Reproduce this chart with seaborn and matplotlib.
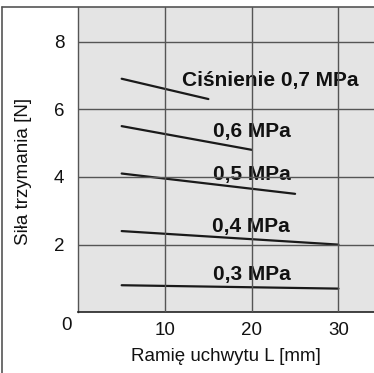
import matplotlib
matplotlib.use("Agg")
import matplotlib.pyplot as plt
import seaborn as sns
import pandas as pd
from matplotlib.lines import Line2D

# holding force vs. gripper arm length, per supply pressure
pressures = ["0,7", "0,6", "0,5", "0,4", "0,3"]
arm_start = [5, 5, 5, 5, 5]
arm_end = [15, 20, 25, 30, 30]
force_start = [6.9, 5.5, 4.1, 2.4, 0.8]
force_end = [6.3, 4.8, 3.5, 2.0, 0.7]
labels = ["Ciśnienie 0,7 MPa", "0,6 MPa", "0,5 MPa", "0,4 MPa", "0,3 MPa"]
label_x = [11.9, 15.5, 15.5, 15.4, 15.5]
label_y = [6.85, 5.35, 4.06, 2.53, 1.13]

rows = []
for p, x0, x1, y0, y1 in zip(pressures, arm_start, arm_end, force_start, force_end):
    rows.append({"p": p, "L": x0, "F": y0})
    rows.append({"p": p, "L": x1, "F": y1})
df = pd.DataFrame(rows)

sns.set_theme(style="white")
plt.rcParams["font.family"] = ["Liberation Sans", "DejaVu Sans"]

fig = plt.figure(figsize=(3.74, 3.73), dpi=100)
ax = fig.add_axes([0.2094, 0.1627, 0.7906, 0.8195])
ax.set_facecolor("#e4e4e4")

sns.lineplot(data=df, x="L", y="F", units="p", estimator=None, color="#1a1a1a",
             linewidth=1.6, ax=ax, legend=False)

for t, x, y in zip(labels, label_x, label_y):
    ax.text(x, y, t, fontsize=15, fontweight="bold", va="center", ha="left",
            color="#111111", zorder=1)

ax.set_xlim(0, 34.1)
ax.set_ylim(0, 9.03)
ax.set_xticks([10, 20, 30])
ax.set_yticks([2, 4, 6, 8])
ax.grid(True, color="#555555", linewidth=1.0, zorder=3)
ax.set_axisbelow(False)
ax.tick_params(length=0, labelsize=13.5, colors="#111111", pad=7)
ax.tick_params(axis="y", pad=10)
for s in ["top", "right"]:
    ax.spines[s].set_visible(False)
ax.spines["left"].set_color("#555555")
ax.spines["bottom"].set_color("#222222")
ax.spines["left"].set_linewidth(1.0)
ax.spines["bottom"].set_linewidth(1.2)

ax.set_xlabel("")
ax.set_ylabel("")
fig.text(0.604, 0.043, "Ramię uchwytu L [mm]", fontsize=13.5, ha="center", va="center",
         color="#111111")
fig.text(0.062, 0.54, "Siła trzymania [N]", fontsize=13.5, ha="center", va="center",
         rotation=90, color="#111111")
fig.text(0.179, 0.128, "0", fontsize=13.5, ha="center", va="center", color="#111111")

# frame around the figure (top and left edges)
fig.add_artist(Line2D([0.006, 0.006], [0.0, 0.982], color="#555555", linewidth=1.2))
fig.add_artist(Line2D([0.006, 1.0], [0.982, 0.982], color="#555555", linewidth=1.2))

fig.savefig("out.png", dpi=100)
